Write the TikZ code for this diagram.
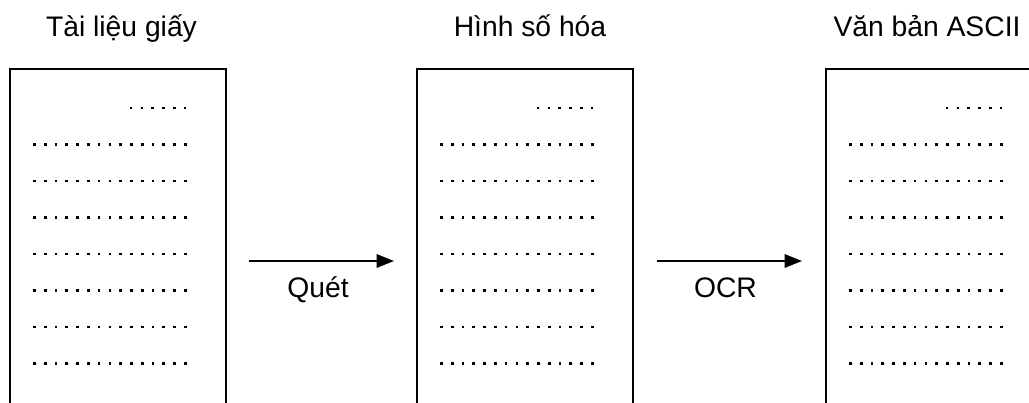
\documentclass[tikz,border=0pt]{standalone}
\usepackage{fontspec}
\setmainfont{Liberation Sans}
\usetikzlibrary{arrows.meta}
\tikzset{
	titel/.style={font=\fontsize{21.2}{24}\selectfont,anchor=base,inner sep=0pt},
	blatt/.style={line width=2.1pt},
	pfeil/.style={line width=1.6pt,-{Triangle[length=13pt,width=10pt]}},
}
\begin{document}
\begin{tikzpicture}[x=0.75pt,y=-0.75pt]
	\useasboundingbox (0,0) rectangle (1029,403);
	\clip (0,0) rectangle (1029,403);
	% Blaetter mit Punktzeilen
	\foreach \dx in {0,407,816}{
		\draw[blatt] (\dx+10,440) |- (\dx+226,69) -- (\dx+226,440);
		% erste Zeile
		\foreach \i in {0,...,5}
			\fill (\dx+129.7+10.8*\i,106.7) rectangle ++(2.7,2.7);
		% weitere Zeilen
		\foreach \j in {1,...,7}
			\foreach \i in {0,...,14}
				\fill (\dx+33.2+10.76*\i,106.7+36.5*\j) rectangle ++(2.7,2.7);
	}
	% Ueberschriften
	\node[titel] (papier) at (121.5,37) {Tài liệu giấy};
	\node[titel] (bild) at (530,37) {Hình số hóa};
	\node[titel] (ascii) at (927,37) {Văn bản ASCII};
	% Pfeile
	\coordinate (quetA) at (249,261);
	\coordinate (quetB) at (394,261);
	\coordinate (ocrA) at (657,261);
	\coordinate (ocrB) at (802,261);
	\draw[pfeil] (quetA) -- (quetB);
	\draw[pfeil] (ocrA) -- (ocrB);
	\node[titel] (quet) at (318,297) {Quét};
	\node[titel] (ocr) at (725.5,297) {OCR};
\end{tikzpicture}
\end{document}
